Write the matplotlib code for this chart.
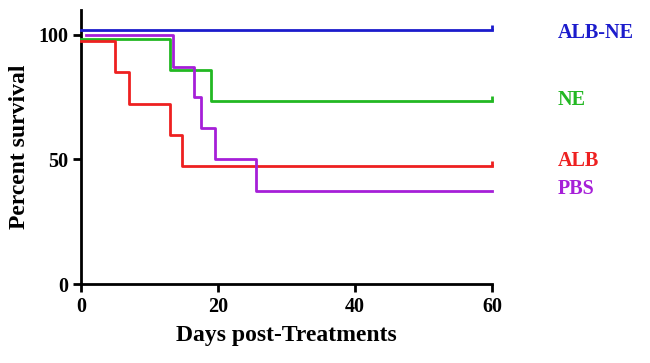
import numpy as np
import matplotlib.pyplot as plt

plt.rcParams['font.family'] = ['Liberation Serif', 'DejaVu Serif']
plt.rcParams['font.weight'] = 'bold'

# survival curves (step changes): day, percent
alb_ne_days = [0, 60]
alb_ne_surv = [102, 102]

ne_days = [0, 13, 19, 60]
ne_surv = [98.5, 86, 73.5, 73.5]

alb_days = [0, 5, 7, 13, 14.8, 60]
alb_surv = [97.5, 85, 72.2, 59.8, 47.5, 47.5]

pbs_days = [0.7, 13.5, 16.5, 17.5, 19.5, 25.5, 60]
pbs_surv = [100, 87.2, 75, 62.5, 50, 37.5, 37.5]

censored = [True, True, True, False]
names = ['ALB-NE', 'NE', 'ALB', 'PBS']
colors = ['#1c1ccc', '#22b822', '#ee2020', '#a61fd8']
label_y = [100.8, 74, 49.3, 38.3]

fig = plt.figure(figsize=(6.5, 3.63), dpi=100)
ax = fig.add_axes([0.1246, 0.2176, 0.6323, 0.755])

series = [(alb_ne_days, alb_ne_surv), (ne_days, ne_surv),
          (alb_days, alb_surv), (pbs_days, pbs_surv)]
for (d, s), c, cen in zip(series, colors, censored):
    ax.step(d, s, where='post', color=c, lw=2, zorder=3, clip_on=False)
    if cen:
        # small censor tick at the end
        ax.plot([d[-1], d[-1]], [s[-1], s[-1] + 2], color=c, lw=2, zorder=3,
                solid_capstyle='butt', clip_on=False)

# group names on the right
for n, c, y in zip(names, colors, label_y):
    ax.text(1.16, y, n, color=c, fontsize=14.5, fontweight='bold',
            transform=ax.get_yaxis_transform(), va='center', ha='left')

ax.set_xlim(0, 60)
ax.set_ylim(0, 110)
ax.set_xticks([0, 20, 40, 60])
ax.set_yticks([0, 50, 100])
ax.spines['top'].set_visible(False)
ax.spines['right'].set_visible(False)
ax.spines['left'].set_linewidth(2)
ax.spines['bottom'].set_linewidth(2)
ax.tick_params(width=2, length=6, labelsize=14.5, direction='out', pad=3)
ax.set_xlabel('Days post-Treatments', fontsize=17, fontweight='bold', labelpad=6)
ax.set_ylabel('Percent survival', fontsize=17, fontweight='bold', labelpad=6)

fig.savefig('out.png', dpi=100, facecolor='white')
